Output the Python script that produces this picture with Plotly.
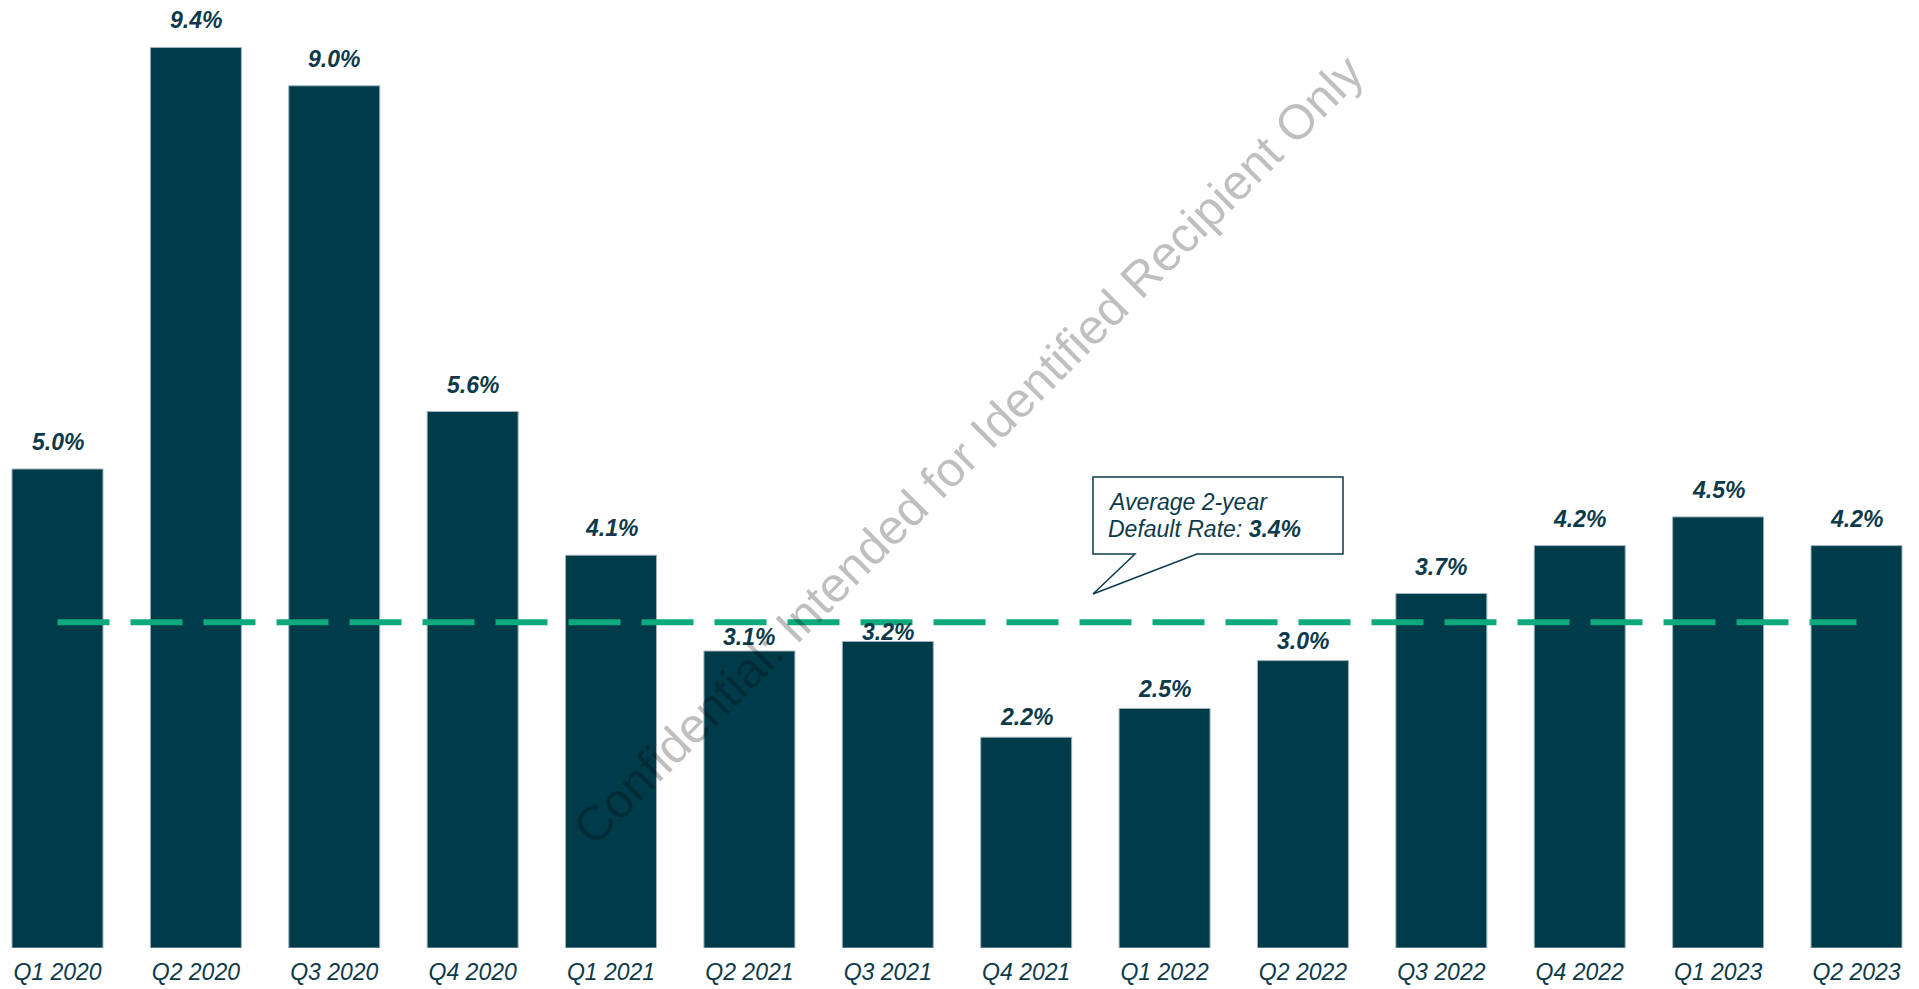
import plotly.graph_objects as go

# Quarterly default rates (%)
quarters = ["Q1 2020", "Q2 2020", "Q3 2020", "Q4 2020", "Q1 2021", "Q2 2021", "Q3 2021",
            "Q4 2021", "Q1 2022", "Q2 2022", "Q3 2022", "Q4 2022", "Q1 2023", "Q2 2023"]
default_rate = [5.0, 9.4, 9.0, 5.6, 4.1, 3.1, 3.2, 2.2, 2.5, 3.0, 3.7, 4.2, 4.5, 4.2]
average_rate = 3.4

W, H = 1919, 989
PLOT_H = 948  # pixel height of the plotting area
Y_MAX = PLOT_H / 95.8
PX_PER_UNIT = PLOT_H / Y_MAX

BAR = "#003B4A"
TEXT = "#0D3A4A"
GREEN = "#0FA97E"
FONT = "Liberation Sans, Arial, sans-serif"

fig = go.Figure()

fig.add_trace(go.Bar(
    x=quarters, y=default_rate,
    marker=dict(color=BAR, line=dict(color="#9FB3BB", width=1)),
    hoverinfo="x+y",
    showlegend=False,
))

# average line
fig.add_trace(go.Scatter(
    x=[quarters[0], quarters[-1]], y=[average_rate, average_rate],
    mode="lines",
    line=dict(color=GREEN, width=6, dash="52px,21px"),
    hoverinfo="skip",
    showlegend=False,
))

annotations = []
# value labels above each bar; labels under the average line are kept
# between the line and the bar top
for q, v in zip(quarters, default_rate):
    if v >= average_rate:
        shift = 27
    else:
        shift = min(20, (average_rate - v) * PX_PER_UNIT / 2)
    annotations.append(dict(
        x=q, y=v, xref="x", yref="y",
        text=f"{v:.1f}%", showarrow=False,
        yanchor="middle", yshift=shift,
        font=dict(family=FONT, size=23, color=TEXT, weight="bold", style="italic"),
    ))


def px(x):
    return x / W


def py(y):
    return 1 - y / PLOT_H


# callout text
annotations.append(dict(
    x=px(1106), y=py(502), xref="paper", yref="paper",
    xanchor="left", yanchor="middle", showarrow=False,
    text="Average 2-year",
    font=dict(family=FONT, size=23, color=TEXT, style="italic"),
))
annotations.append(dict(
    x=px(1106), y=py(529), xref="paper", yref="paper",
    xanchor="left", yanchor="middle", showarrow=False,
    text=f"Default Rate: <b>{average_rate:.1f}%</b>",
    font=dict(family=FONT, size=23, color=TEXT, style="italic"),
))

# watermark
annotations.append(dict(
    x=px(968), y=py(450), xref="paper", yref="paper",
    xanchor="center", yanchor="middle", showarrow=False,
    text="Confidential: Intended for Identified Recipient Only",
    textangle=-45,
    font=dict(family=FONT, size=49, color="rgba(0,0,0,0.25)"),
))

# speech-bubble outline of the callout
box = [(1093, 477), (1343, 477), (1343, 554), (1197, 554), (1093, 594), (1135, 554), (1093, 554)]
path = "M " + " L ".join(f"{px(x):.5f},{py(y):.5f}" for x, y in box) + " Z"

fig.update_layout(
    width=W, height=H,
    margin=dict(l=0, r=0, t=0, b=H - PLOT_H, pad=0),
    paper_bgcolor="white", plot_bgcolor="white",
    bargap=0.3425,
    xaxis=dict(
        type="category", range=[-0.4155, 13.4516],
        showgrid=False, zeroline=False, showline=False, ticks="",
        tickfont=dict(family=FONT, size=23, color=TEXT, style="italic"),
        ticklabelstandoff=8,
    ),
    yaxis=dict(range=[0, Y_MAX], visible=False, fixedrange=True),
    annotations=annotations,
    shapes=[dict(type="path", path=path, xref="paper", yref="paper",
                 line=dict(color=TEXT, width=1.5), fillcolor="white", layer="above")],
)

fig.write_html("out.html")
